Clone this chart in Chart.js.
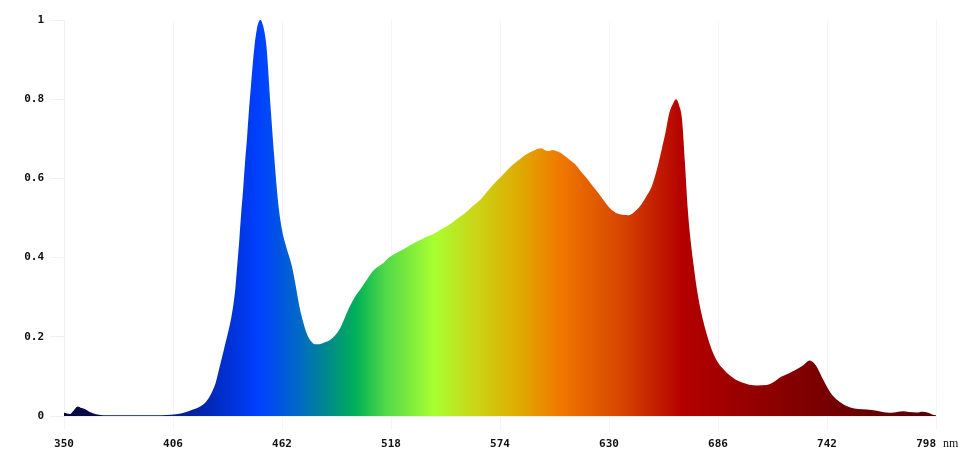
<!DOCTYPE html>
<html>
<head>
<meta charset="utf-8">
<script src="https://cdn.jsdelivr.net/npm/chart.js@4"></script>
<style>
  html, body { margin: 0; padding: 0; background: #fff; }
  #wrap { width: 968px; height: 458px; }
</style>
</head>
<body>
<div id="wrap"><canvas id="spectrum"></canvas></div>
<script>
// spectrum data (wavelength in nm, relative intensity)
const wavelengths = [
  350, 353, 355, 357, 359, 361, 363, 366, 370, 380, 390, 400, 405, 410, 415, 420,
  423, 426, 428, 430, 432, 434, 436, 437, 438, 439, 440, 441, 442, 443, 444, 445,
  446, 447, 448, 449, 450, 451, 452, 453, 454, 456, 458, 460, 462, 464, 467, 469,
  471, 473, 475, 477, 479, 481, 484, 487, 490, 492, 494, 496, 498, 500, 502, 505,
  508, 511, 514, 517, 520, 524, 528, 532, 536, 540, 544, 548, 552, 556, 560, 564,
  568, 572, 576, 580, 584, 588, 592, 595, 597, 599, 601, 604, 607, 610, 613, 616,
  619, 622, 625, 628, 631, 634, 637, 640, 643, 646, 649, 652, 655, 657, 659, 661,
  663, 664.5, 666, 667.5, 669, 670.5, 672, 673.5, 675, 677, 680, 683, 686, 689, 692, 695,
  698, 702, 706, 711, 715, 718, 722, 726, 730, 733, 735, 737, 740, 743, 746, 749,
  752, 756, 760, 765, 770, 775, 778, 781, 784, 788, 791, 794, 796, 798
];
const intensity = [
  0.008, 0.005, 0.014, 0.024, 0.020, 0.017, 0.011, 0.005, 0.002, 0.002, 0.002, 0.002, 0.003, 0.006, 0.014, 0.024,
  0.036, 0.060, 0.085, 0.125, 0.165, 0.205, 0.25, 0.28, 0.32, 0.38, 0.44, 0.51, 0.57, 0.64, 0.70, 0.77,
  0.83, 0.89, 0.94, 0.975, 0.995, 1.0, 0.99, 0.97, 0.935, 0.79, 0.655, 0.54, 0.47, 0.43, 0.38, 0.33,
  0.275, 0.235, 0.205, 0.188, 0.181, 0.181, 0.186, 0.193, 0.208, 0.223, 0.245, 0.268, 0.288, 0.305, 0.318, 0.34,
  0.362, 0.376, 0.386, 0.400, 0.41, 0.42, 0.432, 0.442, 0.452, 0.46, 0.472, 0.483, 0.498, 0.512, 0.53, 0.547,
  0.57, 0.592, 0.612, 0.632, 0.648, 0.662, 0.672, 0.676, 0.672, 0.669, 0.672, 0.667, 0.658, 0.646, 0.634, 0.615,
  0.598, 0.578, 0.56, 0.54, 0.522, 0.512, 0.508, 0.507, 0.515, 0.53, 0.553, 0.58, 0.63, 0.672, 0.715, 0.765,
  0.79, 0.80, 0.785, 0.75, 0.64, 0.52, 0.44, 0.38, 0.325, 0.27, 0.21, 0.165, 0.135, 0.117, 0.103, 0.092,
  0.085, 0.079, 0.077, 0.078, 0.087, 0.098, 0.107, 0.117, 0.129, 0.14, 0.135, 0.122, 0.092, 0.065, 0.046, 0.034,
  0.025, 0.019, 0.017, 0.015, 0.011, 0.008, 0.010, 0.012, 0.010, 0.009, 0.011, 0.008, 0.004, 0.002
];

// x ticks every 56 nm, y ticks every 0.2
const xTicks = [350, 406, 462, 518, 574, 630, 686, 742, 798];
const yTicks = [0, 0.2, 0.4, 0.6, 0.8, 1];

// fill colours along the wavelength axis
const stopNm = [350, 400, 425, 450, 470, 485, 500, 515, 540, 560, 585, 605, 635, 668, 700, 740, 798];
const stopColor = ['#06063a', '#041a70', '#0028b8', '#0040ff', '#0068c8', '#00888c', '#00b058', '#50d848',
  '#a8ff30', '#c8d818', '#e0a800', '#f07800', '#d84800', '#b40000', '#980000', '#780000', '#500008'];

const points = wavelengths.map((w, i) => ({ x: w, y: intensity[i] }));

function spectrumFill(context) {
  const chart = context.chart;
  const area = chart.chartArea;
  if (!area) return '#0040ff';
  const xs = chart.scales.x;
  const left = xs.getPixelForValue(350);
  const right = xs.getPixelForValue(798);
  const g = chart.ctx.createLinearGradient(left, 0, right, 0);
  stopNm.forEach((nm, i) => {
    g.addColorStop((nm - 350) / (798 - 350), stopColor[i]);
  });
  return g;
}

// unit label drawn at the right of the x tick row
const unitLabel = {
  id: 'unitLabel',
  afterDraw(chart) {
    const ctx = chart.ctx;
    const xs = chart.scales.x;
    ctx.save();
    ctx.font = '12px "Liberation Serif", serif';
    ctx.fillStyle = '#111';
    ctx.textAlign = 'left';
    ctx.textBaseline = 'middle';
    ctx.fillText('nm', xs.right + 7, chart.chartArea.bottom + 28);
    ctx.restore();
  }
};

const tickFont = { family: '"DejaVu Sans Mono", monospace', size: 11, weight: 'bold' };

new Chart(document.getElementById('spectrum'), {
  type: 'line',
  data: {
    datasets: [{
      data: points,
      fill: 'origin',
      backgroundColor: spectrumFill,
      borderWidth: 0,
      pointRadius: 0,
      cubicInterpolationMode: 'monotone'
    }]
  },
  options: {
    responsive: true,
    maintainAspectRatio: false,
    animation: false,
    layout: { padding: { top: 20, right: 32, bottom: 0, left: 10 } },
    plugins: { legend: { display: false }, tooltip: { enabled: false } },
    scales: {
      x: {
        type: 'linear',
        min: 350,
        max: 798,
        afterBuildTicks: (s) => { s.ticks = xTicks.map(v => ({ value: v })); },
        afterFit: (s) => { s.height = 42; },
        ticks: {
          font: tickFont, color: '#111', padding: 8, maxRotation: 0, autoSkip: false,
          // last label sits left of its tick, next to the unit
          callback: (v) => v === 798 ? '798   ' : String(v)
        },
        grid: { color: '#f5f5f5', tickLength: 14 },
        border: { color: '#f0f0f0' }
      },
      y: {
        min: 0,
        max: 1,
        afterBuildTicks: (s) => { s.ticks = yTicks.map(v => ({ value: v })); },
        afterFit: (s) => { s.width = 54; },
        ticks: { font: tickFont, color: '#111', padding: 6, callback: (v) => String(+v.toFixed(1)) },
        grid: { color: '#f0f0f0', tickLength: 14, drawOnChartArea: false },
        border: { color: '#f0f0f0' }
      }
    }
  },
  plugins: [unitLabel]
});
</script>
</body>
</html>
